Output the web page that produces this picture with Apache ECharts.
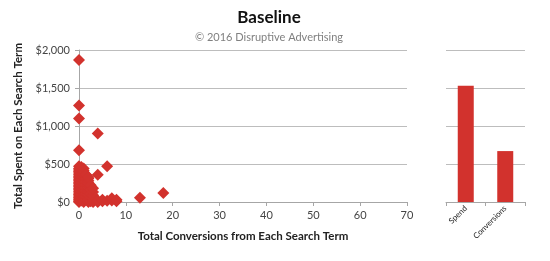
<!DOCTYPE html>
<html>
<head>
<meta charset="utf-8">
<script src="https://cdn.jsdelivr.net/npm/echarts@6/dist/echarts.min.js"></script>
<style>
  html, body { margin: 0; padding: 0; background: #fff; }
  #chart { width: 550px; height: 261px; }
</style>
</head>
<body>
<div id="chart"></div>
<script>
// scatter: conversions (x) vs spend (y) per search term
const conversions = [
  0, 0, 0, 0, 0, 0, 0, 0, 0, 0, 0, 0, 0, 0, 0, 0, 0, 0, 0, 0, 0, 0, 0, 0, 0, 0, 0, 0, 0,
  0.5, 0.5, 0.5, 0.5, 0.5, 0.5, 0.5, 0.5, 0.5, 0.5, 0.5, 0.5,
  1, 1, 1, 1, 1, 1, 1, 1, 1, 1, 1, 1, 1, 1, 1, 1, 1, 1, 1, 1, 1, 1, 1,
  1.5, 1.5, 1.5, 1.5, 1.5, 1.5, 1.5, 1.5, 1.5,
  2, 2, 2, 2, 2, 2, 2, 2, 2, 2, 2, 2, 2,
  2.5, 2.5, 2.5, 2.5, 2.5,
  3, 3, 3, 3, 3, 3, 3,
  4, 4, 4, 4, 5, 5, 6, 6, 7, 7, 8, 8, 13, 18
]
const spend = [
  0, 10, 25, 40, 60, 80, 100, 120, 140, 160, 180, 200, 220, 240, 260, 280, 300, 320, 340, 360, 380, 400, 420, 440, 470, 680, 1100, 1270, 1870,
  20, 60, 100, 140, 180, 220, 260, 300, 340, 380, 420, 460,
  0, 15, 30, 50, 70, 90, 110, 130, 150, 170, 190, 210, 230, 250, 270, 290, 310, 330, 350, 370, 390, 410, 440,
  30, 70, 110, 150, 190, 230, 270, 310, 360,
  0, 20, 40, 70, 100, 130, 160, 190, 220, 250, 280, 310, 330,
  10, 60, 110, 160, 220,
  0, 10, 20, 50, 90, 130, 180,
  0, 20, 360, 900, 10, 30, 15, 470, 20, 50, 10, 30, 55, 120
]
const yTicks = [0, 500, 1000, 1500, 2000]

// side bars: relative totals
const barCategories = ['Spend', 'Conversions']
const barValues = [1530, 670]

const red = '#d2322d'
const font = 'Lato, "Open Sans", sans-serif'

const chart = echarts.init(document.getElementById('chart'))

chart.setOption({
  animation: false,
  title: [
    {
      text: 'Baseline',
      left: 264,
      top: 4,
      textAlign: 'center',
      textStyle: { fontFamily: font, fontSize: 17, fontWeight: 'bold', color: '#111' },
    },
    {
      text: '© 2016 Disruptive Advertising',
      left: 264,
      top: 27,
      textAlign: 'center',
      textStyle: { fontFamily: font, fontSize: 11, fontWeight: 'normal', color: '#808080' },
    },
  ],
  grid: [
    { left: 79, top: 50, width: 328, height: 152 },
    { left: 446, top: 50, width: 79, height: 152 },
  ],
  xAxis: [
    {
      gridIndex: 0,
      type: 'value',
      min: 0,
      max: 70,
      interval: 10,
      name: 'Total Conversions from Each Search Term',
      nameLocation: 'middle',
      nameGap: 28,
      nameTextStyle: { fontFamily: font, fontSize: 11.5, fontWeight: 'bold', color: '#222' },
      axisLine: { show: true, lineStyle: { color: '#a6a6a6' } },
      axisTick: { show: true, length: 4, lineStyle: { color: '#a6a6a6' } },
      axisLabel: { fontFamily: font, fontSize: 11, color: '#444', margin: 8 },
      splitLine: { show: false },
    },
    {
      gridIndex: 1,
      type: 'category',
      data: barCategories,
      axisLine: { show: true, lineStyle: { color: '#a6a6a6' } },
      axisTick: { show: true, length: 4, lineStyle: { color: '#a6a6a6' } },
      axisLabel: { fontFamily: font, fontSize: 8, color: '#222', rotate: 45, margin: 5, interval: 0 },
    },
  ],
  yAxis: [
    {
      gridIndex: 0,
      type: 'value',
      min: 0,
      max: 2000,
      interval: 500,
      name: 'Total Spent on Each Search Term',
      nameLocation: 'middle',
      nameGap: 53,
      nameTextStyle: { fontFamily: font, fontSize: 11.5, fontWeight: 'bold', color: '#222' },
      axisLine: { show: true, lineStyle: { color: '#a6a6a6' } },
      axisTick: { show: true, length: 4, lineStyle: { color: '#a6a6a6' } },
      axisLabel: {
        fontFamily: font,
        fontSize: 11,
        color: '#444',
        margin: 9,
        formatter: (v) => (yTicks.includes(v) ? '$' + v.toLocaleString('en-US') : ''),
      },
      splitLine: { show: true, lineStyle: { color: '#bdbdbd' } },
    },
    {
      gridIndex: 1,
      type: 'value',
      min: 0,
      max: 2000,
      interval: 500,
      axisLine: { show: false },
      axisTick: { show: false },
      axisLabel: { show: false },
      splitLine: { show: true, lineStyle: { color: '#bdbdbd' } },
    },
  ],
  series: [
    {
      type: 'scatter',
      xAxisIndex: 0,
      yAxisIndex: 0,
      symbol: 'diamond',
      symbolSize: 12,
      itemStyle: { color: red, opacity: 1 },
      data: conversions.map((c, i) => [c, spend[i]]),
    },
    {
      type: 'bar',
      xAxisIndex: 1,
      yAxisIndex: 1,
      barWidth: 16,
      itemStyle: { color: red },
      data: barValues,
    },
  ],
})
</script>
</body>
</html>
